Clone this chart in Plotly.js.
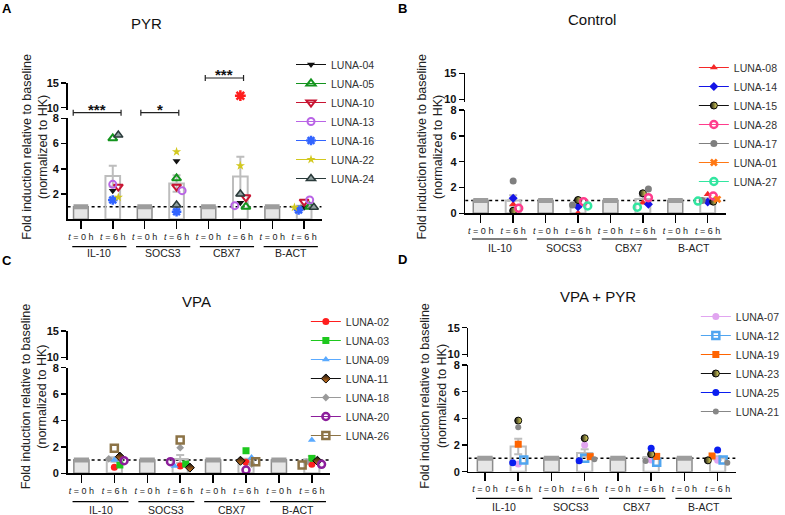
<!DOCTYPE html>
<html><head><meta charset="utf-8">
<script src="https://cdn.plot.ly/plotly-3.0.1.min.js"></script>
<style>html,body{margin:0;padding:0;background:#fff}#chart{width:785px;height:515px}</style>
</head><body><div id="chart"></div>
<script>
// ---------------- DATA ----------------
const genes = ['IL-10', 'SOCS3', 'CBX7', 'B-ACT'];
const timeLabels = ['<i>t</i> = 0 h', '<i>t</i> = 6 h'];
const baselineValue = 1;            // t = 0 h fold induction (normalised)
const lowerTicks = [0, 2, 4, 6, 8];
const upperTicks = [10, 15];

// Panel A: PYR  (6 h values per gene: IL-10, SOCS3, CBX7, B-ACT)
const pyrNames = ['LUNA-04', 'LUNA-05', 'LUNA-10', 'LUNA-13', 'LUNA-16', 'LUNA-22', 'LUNA-24'];
const pyrValues = [
  [2.27, 4.62, 1.31, 0.95],
  [6.41, 3.25, 1.00, 1.00],
  [2.58, 2.58, 1.74, 1.40],
  [2.77, 2.27, 1.08, 1.53],
  [1.53, 0.60, 12.43, 0.74],
  [1.74, 5.35, 4.24, 0.95],
  [6.67, 1.13, 2.00, 0.95]
];
const pyrSigGenes = ['IL-10', 'SOCS3', 'CBX7'];
const pyrSigLabels = ['***', '*', '***'];

// Panel B: Control
const ctrlNames = ['LUNA-08', 'LUNA-14', 'LUNA-15', 'LUNA-28', 'LUNA-17', 'LUNA-01', 'LUNA-27'];
const ctrlValues = [
  [0.70, 0.02, 0.82, 1.47],
  [1.16, 0.51, 0.70, 0.88],
  [0.20, 1.03, 1.55, 0.90],
  [0.39, 0.90, 1.21, 1.34],
  [2.50, 0.65, 1.88, 1.00],
  [null, null, null, 1.08],
  [null, 0.57, 0.47, 0.95]
];

// Panel C: VPA
const vpaNames = ['LUNA-02', 'LUNA-03', 'LUNA-09', 'LUNA-11', 'LUNA-18', 'LUNA-20', 'LUNA-26'];
const vpaValues = [
  [0.45, 0.55, 0.83, 0.68],
  [0.63, 0.70, 1.71, 1.13],
  [1.00, 0.55, 1.20, 2.52],
  [1.26, 0.43, 0.95, 0.95],
  [1.10, 1.94, 0.70, 0.85],
  [0.96, 0.88, 0.25, 0.68],
  [1.89, 2.52, 0.88, 0.63]
];

// Panel D: VPA + PYR
const comboNames = ['LUNA-07', 'LUNA-12', 'LUNA-19', 'LUNA-23', 'LUNA-25', 'LUNA-21'];
const comboValues = [
  [0.58, 2.00, 0.88, 0.85],
  [0.88, 1.00, 0.71, 0.88],
  [2.06, 1.13, 1.15, 1.18],
  [3.83, 2.51, 1.31, 0.85],
  [0.68, 0.83, 1.76, 1.63],
  [3.34, 0.93, 0.80, 0.68]
];

// ---------------- STYLES ----------------
const W = 785, H = 515;
const FONT = 'Liberation Sans, Arial, Helvetica, sans-serif';
function st(symbol, color, size, extra) { return Object.assign({symbol, color, size}, extra || {}); }
const pyrStyles = [
  st('triangle-down', '#111111', 7),
  st('triangle-up-open', '#14941e', 8, {lw: 2}),
  st('triangle-down-open', '#c81432', 8, {lw: 2}),
  st('circle-open', '#b964e6', 7, {lw: 2}),
  st('asterisk-open', '#3264ff', 8, {lw: 2.5, upperColor: '#ff1e1e'}),
  st('star', '#d2c81e', 7),
  st('triangle-up', '#90a0a0', 8, {lc: '#2a3a3a', lw: 1.5})
];
const ctrlStyles = [
  st('triangle-up', '#f52828', 7),
  st('diamond', '#1414e6', 7),
  st('circle', '#111111', 7, {grad: 'horizontal', gradColor: '#f0e664', lc: '#000', lw: 1}),
  st('circle-open', '#ff3c8c', 7, {lw: 2.5}),
  st('circle', '#7f7f7f', 7),
  st('x', '#ff7814', 7),
  st('circle-open', '#32e6a0', 7, {lw: 2.5})
];
const vpaStyles = [
  st('circle', '#ff1e1e', 7),
  st('square', '#1ec81e', 7),
  st('triangle-up', '#5aaaff', 7),
  st('diamond', '#111111', 7, {grad: 'vertical', gradColor: '#e07b1a', lc: '#000', lw: 1}),
  st('diamond', '#9a9a9a', 6),
  st('circle-open', '#8c1e9b', 7, {lw: 2.5}),
  st('square-open', '#8c7346', 7, {lw: 2.5})
];
const comboStyles = [
  st('circle', '#e1a5f0', 7),
  st('square-open', '#50a5f0', 7, {lw: 2.5}),
  st('square', '#ff6400', 7),
  st('circle', '#111111', 7, {grad: 'horizontal', gradColor: '#f0e664', lc: '#000', lw: 1}),
  st('circle', '#0a1ef0', 7),
  st('circle', '#878787', 6)
];

// panel geometry in pixels
const panels = [
  {names: pyrNames, values: pyrValues, styles: pyrStyles, title: 'PYR', letter: 'A',
   xdom: [68.3, 325], xr: [-0.416, 7.55], ylow: [219.3, 118.3], yup: [110.2, 83], lowTicks: lowerTicks.slice(1),
   titlePos: [148, 23.5], letterPos: [7, 8], ytPos: [35, 147], legPos: [294, 50], groupY: 246.7, groupLabY: 253.3},
  {names: ctrlNames, values: ctrlValues, styles: ctrlStyles, title: 'Control', letter: 'B',
   xdom: [470, 733], xr: [-0.479, 7.55], ylow: [213.3, 110], yup: [101.9, 73.3], lowTicks: lowerTicks,
   titlePos: [598, 19], letterPos: [407, 8], ytPos: [434, 147], legPos: [701, 53], groupY: 239, groupLabY: 248},
  {names: vpaNames, values: vpaValues, styles: vpaStyles, title: 'VPA', letter: 'C',
   xdom: [68.3, 333], xr: [-0.42, 7.54], ylow: [473.3, 367.7], yup: [359.9, 331], lowTicks: lowerTicks,
   titlePos: [199, 301.7], letterPos: [7, 260], ytPos: [34, 396.7], legPos: [309, 307], groupY: 501.7, groupLabY: 510},
  {names: comboNames, values: comboValues, styles: comboStyles, title: 'VPA + PYR', letter: 'D',
   xdom: [473.3, 743.3], xr: [-0.497, 7.545], ylow: [471.7, 365], yup: [357, 327.7], lowTicks: lowerTicks,
   titlePos: [604, 296.7], letterPos: [407, 259], ytPos: [437.5, 395.7], legPos: [703, 302], groupY: 498.3, groupLabY: 507.3}
];

// ---------------- HELPERS ----------------
const px2x = px => px / W;
const px2y = py => 1 - py / H;
const meanOf = a => a.reduce((s, v) => s + v, 0) / a.length;
function semOf(a) {
  if (a.length < 2) return 0;
  const m = meanOf(a);
  return Math.sqrt(a.reduce((s, v) => s + (v - m) * (v - m), 0) / (a.length - 1) / a.length);
}
// simple beeswarm: spread overlapping points horizontally (in pixel space)
function swarm(vals, center, pxX, pxY, diam) {
  const placed = [], out = [];
  const steps = [0, 0.8, -0.8, 1.4, -1.4];
  vals.forEach((v, i) => {
    if (v == null) { out[i] = null; return; }
    const py = v > 8 ? 10000 + v * 5 : v * pxY;
    let best = 0, bestD = -1;
    for (const s of steps) {
      const dx = s * diam;
      const d = placed.length ? Math.min(...placed.map(q => Math.hypot(q.x - dx, q.y - py))) : 1e9;
      if (d >= diam * 0.8) { best = dx; bestD = d; break; }
      if (d > bestD) { bestD = d; best = dx; }
    }
    placed.push({x: best, y: py});
    out[i] = center + best / pxX;
  });
  return out;
}

const traces = [], shapes = [], annotations = [];
const layout = {
  width: W, height: H, margin: {l: 0, r: 0, t: 0, b: 0},
  paper_bgcolor: '#ffffff', plot_bgcolor: 'rgba(0,0,0,0)',
  font: {family: FONT, color: '#222'}, showlegend: true,
  shapes, annotations
};
const barHalf = 0.23;

panels.forEach((P, k) => {
  const xn = k === 0 ? 'x' : 'x' + (k + 1);
  const yl = 2 * k + 1 === 1 ? 'y' : 'y' + (2 * k + 1);
  const yu = 'y' + (2 * k + 2);
  const legId = k === 0 ? 'legend' : 'legend' + (k + 1);
  const pxX = (P.xdom[1] - P.xdom[0]) / (P.xr[1] - P.xr[0]);
  const pxY = (P.ylow[0] - P.ylow[1]) / 8;

  // axes
  const tickvals = [], ticktext = [];
  genes.forEach((g, gi) => timeLabels.forEach((t, ti) => { tickvals.push(2 * gi + ti); ticktext.push(t); }));
  layout['xaxis' + (k === 0 ? '' : k + 1)] = {
    domain: [px2x(P.xdom[0]), px2x(P.xdom[1])], range: P.xr, anchor: yl,
    tickvals, ticktext, ticks: 'outside', ticklen: 8, tickwidth: 1.5, tickcolor: '#000',
    showline: true, linecolor: '#000', linewidth: 1.5, showgrid: false, zeroline: false,
    tickfont: {size: 9, color: '#222', family: FONT}, fixedrange: true
  };
  const yCommon = {anchor: xn, ticks: 'outside', ticklen: 5, tickwidth: 1.5, tickcolor: '#000',
    showline: true, linecolor: '#000', linewidth: 1.5, showgrid: false, zeroline: false,
    tickfont: {size: 11, color: '#111', family: FONT, weight: 'bold'}, fixedrange: true};
  layout['yaxis' + (2 * k + 1 === 1 ? '' : 2 * k + 1)] = Object.assign({}, yCommon, {
    domain: [px2y(P.ylow[0]), px2y(P.ylow[1])], range: [0, 8], tickvals: P.lowTicks});
  layout['yaxis' + (2 * k + 2)] = Object.assign({}, yCommon, {
    domain: [px2y(P.yup[0]), px2y(P.yup[1])], range: [9.5, 15], tickvals: upperTicks});

  // t = 0 h baseline bars
  const x0 = genes.map((g, gi) => 2 * gi);
  traces.push({type: 'bar', x: x0, y: genes.map(() => baselineValue), width: 2 * barHalf,
    xaxis: xn, yaxis: yl, marker: {color: '#e6e6e6', line: {color: '#8c8c8c', width: 1.5}},
    showlegend: false, hoverinfo: 'skip'});
  const capX = [], capY = [];
  x0.forEach(c => { capX.push(c - barHalf, c + barHalf, null); capY.push(baselineValue, baselineValue, null); });
  traces.push({type: 'scatter', mode: 'lines', x: capX, y: capY, xaxis: xn, yaxis: yl,
    line: {color: '#9d9d9d', width: 5}, showlegend: false, hoverinfo: 'skip'});

  // t = 6 h mean +/- SEM bars
  const x6 = genes.map((g, gi) => 2 * gi + 1);
  const means = [], sems = [];
  genes.forEach((g, gi) => {
    const v = P.values.map(s => s[gi]).filter(a => a != null);
    means.push(meanOf(v)); sems.push(semOf(v));
  });
  traces.push({type: 'bar', x: x6, y: means, width: 2 * barHalf, xaxis: xn, yaxis: yl,
    marker: {color: 'rgba(255,255,255,0)', line: {color: '#bdbdbd', width: 2}},
    error_y: {type: 'data', array: sems, visible: true, color: '#bdbdbd', thickness: 2, width: 4},
    showlegend: false, hoverinfo: 'skip'});

  // point positions
  const xpos = genes.map((g, gi) => swarm(P.values.map(s => s[gi]), 2 * gi + 1, pxX, pxY, 7));

  P.names.forEach((name, si) => {
    const S = P.styles[si];
    const mk = {symbol: S.symbol, color: S.color, size: S.size,
      line: {color: S.lc || S.color, width: S.lw != null ? S.lw : 0}};
    if (S.grad) mk.gradient = {type: S.grad, color: S.gradColor};
    const lx = [], ly = [], ux = [], uy = [];
    genes.forEach((g, gi) => {
      const v = P.values[si][gi];
      lx.push(xpos[gi][si], null); ly.push(v != null && v <= 8 ? v : null, null);
      ux.push(xpos[gi][si], null); uy.push(v != null && v > 8 ? v : null, null);
    });
    traces.push({type: 'scatter', mode: 'lines+markers', name: name, x: lx, y: ly, connectgaps: false,
      xaxis: xn, yaxis: yl, marker: mk, line: {color: S.lc && !S.grad ? S.lc : S.color, width: 1},
      cliponaxis: false, legend: legId, hoverinfo: 'skip'});
    const mk2 = JSON.parse(JSON.stringify(mk));
    if (S.upperColor) { mk2.color = S.upperColor; mk2.line.color = S.upperColor; mk2.size = S.size + 1; }
    traces.push({type: 'scatter', mode: 'markers', name: name, x: ux, y: uy, xaxis: xn, yaxis: yu,
      marker: mk2, cliponaxis: false, showlegend: false, legend: legId, hoverinfo: 'skip'});
  });

  // legend
  layout[legId] = {x: px2x(P.legPos[0]), y: px2y(P.legPos[1]), xanchor: 'left', yanchor: 'top',
    bgcolor: 'rgba(0,0,0,0)', font: {size: 10.5, color: '#333', family: FONT}, tracegroupgap: 0, itemwidth: 30};

  // dotted reference line at baseline
  shapes.push({type: 'line', xref: xn, yref: yl, x0: P.xr[0], x1: P.xr[1], y0: baselineValue, y1: baselineValue,
    line: {color: '#000', width: 1.5, dash: 'dot'}, layer: 'below'});

  // gene group lines & labels
  genes.forEach((g, gi) => {
    const c = 2 * gi + 0.5 + 0.08;
    shapes.push({type: 'line', xref: xn, yref: 'paper', x0: c - 0.85, x1: c + 0.85,
      y0: px2y(P.groupY), y1: px2y(P.groupY), line: {color: '#000', width: 1.2}});
    annotations.push({xref: xn, yref: 'paper', x: c, y: px2y(P.groupLabY), text: g, showarrow: false,
      xanchor: 'center', yanchor: 'middle', font: {size: 10.5, color: '#222', family: FONT}});
  });

  // titles / letters / y titles
  annotations.push({xref: 'paper', yref: 'paper', x: px2x(P.titlePos[0]), y: px2y(P.titlePos[1]), text: P.title,
    showarrow: false, xanchor: 'center', yanchor: 'middle', font: {size: 15, color: '#111', family: FONT}});
  annotations.push({xref: 'paper', yref: 'paper', x: px2x(P.letterPos[0]), y: px2y(P.letterPos[1]), text: P.letter,
    showarrow: false, xanchor: 'center', yanchor: 'middle', font: {size: 13, color: '#000', family: FONT, weight: 'bold'}});
  annotations.push({xref: 'paper', yref: 'paper', x: px2x(P.ytPos[0]), y: px2y(P.ytPos[1]),
    text: 'Fold induction relative to baseline<br>(normalized to HK)', textangle: -90,
    showarrow: false, xanchor: 'center', yanchor: 'middle', font: {size: 12.5, color: '#222', family: FONT}});

  // significance brackets (panel A)
  if (k === 0) {
    const brk = {'IL-10': [-0.24, 0.26, 112.7], 'SOCS3': [-0.12, 0.07, 112.7], 'CBX7': [-0.1, 0.1, 78]};
    pyrSigGenes.forEach((g, i) => {
      const gi = genes.indexOf(g); const b = brk[g];
      const xa = 2 * gi + b[0], xb = 2 * gi + 1 + b[1], yy = px2y(b[2]);
      shapes.push({type: 'line', xref: xn, yref: 'paper', x0: xa, x1: xb, y0: yy, y1: yy, line: {color: '#222', width: 1.2}});
      [xa, xb].forEach(xe => shapes.push({type: 'line', xref: xn, yref: 'paper', x0: xe, x1: xe,
        y0: px2y(b[2] - 3), y1: px2y(b[2] + 3), line: {color: '#222', width: 1.2}}));
      annotations.push({xref: xn, yref: 'paper', x: (xa + xb) / 2, y: px2y(b[2] - 3), text: pyrSigLabels[i],
        showarrow: false, xanchor: 'center', yanchor: 'middle', font: {size: 15, color: '#111', family: FONT, weight: 'bold'}});
    });
  }
});

Plotly.newPlot('chart', traces, layout, {displayModeBar: false, staticPlot: true});
</script></body></html>
